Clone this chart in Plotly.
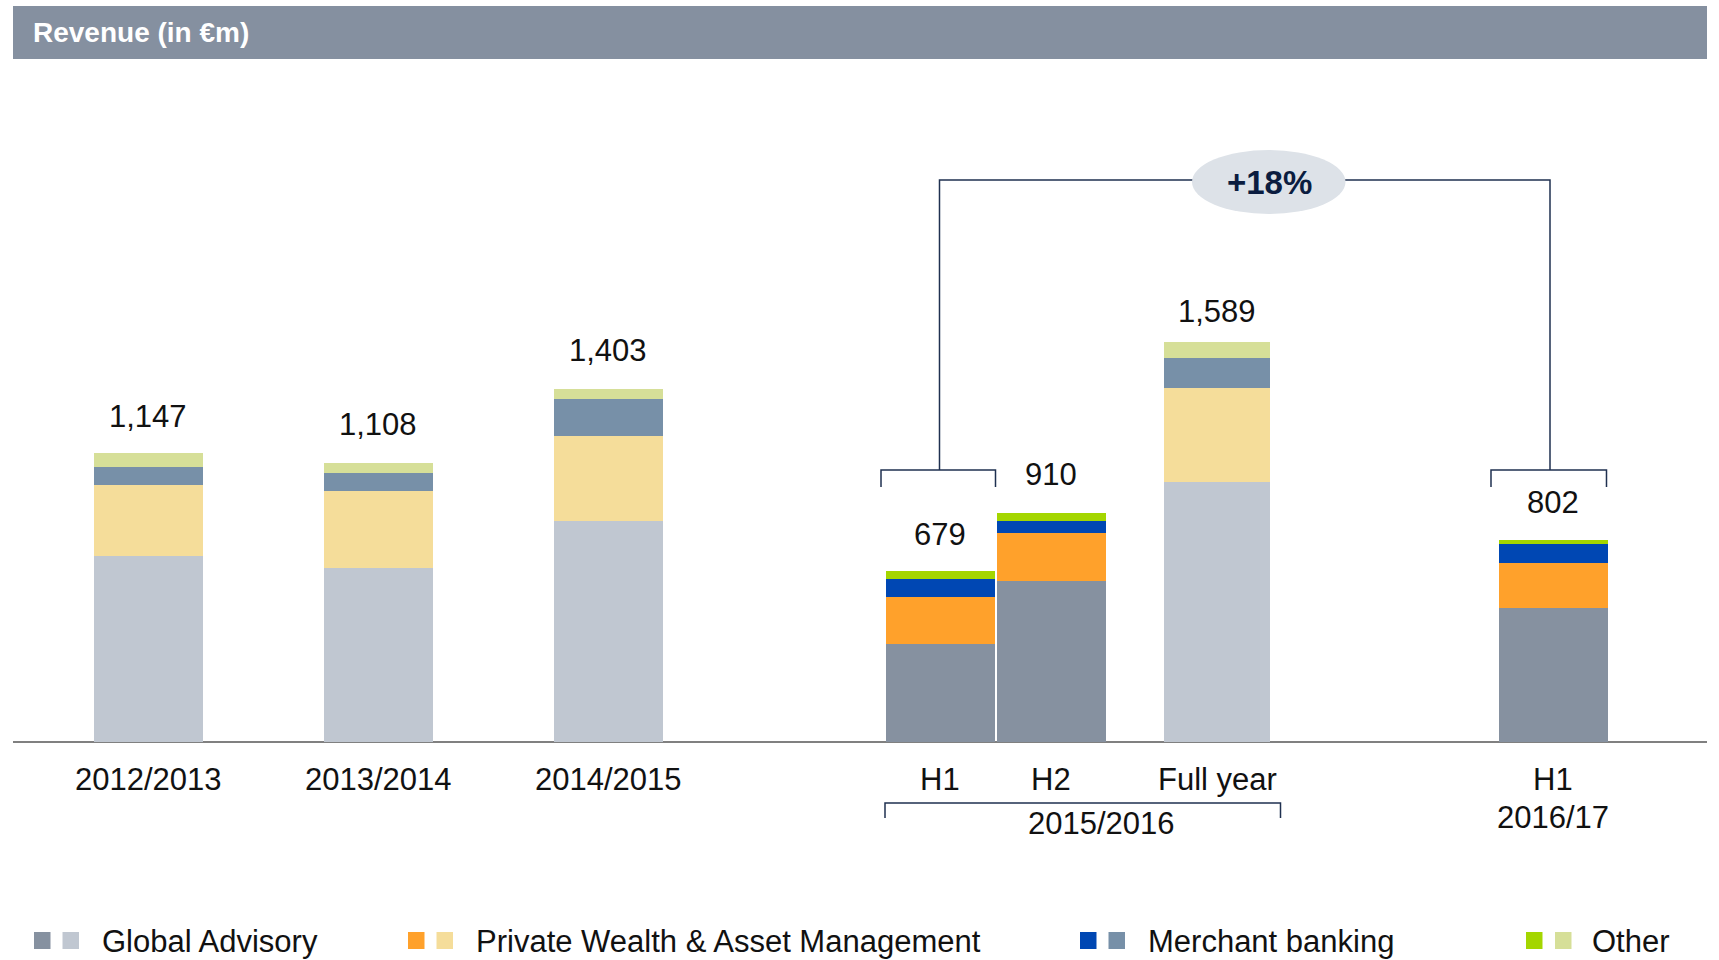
import plotly.graph_objects as go

# ---------------- data ----------------
periods = ["2012/2013", "2013/2014", "2014/2015", "H1 2015/2016",
           "H2 2015/2016", "Full year 2015/2016", "H1 2016/17"]
totals = [1147, 1108, 1403, 679, 910, 1589, 802]
global_advisory = [739, 690, 879, 391, 641, 1032, 531]
private_wealth_am = [283, 305, 337, 185, 190, 375, 181]
merchant_banking = [69, 74, 144, 70, 46, 116, 74]
other = [56, 39, 43, 33, 33, 66, 16]
tick_labels = ["2012/2013", "2013/2014", "2014/2015", "H1", "H2", "Full year", "H1"]
half_year = [False, False, False, True, True, False, True]
growth_label = "+18%"
group_label = "2015/2016"
sub_label = "2016/17"

# ---------------- layout helpers ----------------
W, H = 1719, 960
L, R, T, B = 13, 12, 100, 218
plot_w = W - L - R
plot_h = H - T - B
y_per_px = 3.97
x_pos = [135, 365, 595, 927, 1038, 1204, 1540]
bar_w = [109, 109, 109, 109, 109, 106, 109]

def px(x):
    return (x - L) / plot_w

def py(y):
    return (H - B - y) / plot_h

FONT = "Liberation Sans, Arial, sans-serif"
NAVY = "#1f3050"

segments = [
    ("Global Advisory", global_advisory, "#8691a0", "#c0c7d1"),
    ("Private Wealth & Asset Management", private_wealth_am, "#ffa12b", "#f5dd9a"),
    ("Merchant banking", merchant_banking, "#0047b3", "#7790a8"),
    ("Other", other, "#a4d600", "#d6df98"),
]

fig = go.Figure()
for name, vals, dark, light in segments:
    fig.add_trace(go.Bar(
        x=x_pos, y=vals, width=bar_w, name=name,
        marker=dict(color=[dark if h else light for h in half_year], line=dict(width=0)),
        hoverinfo="skip",
    ))

shapes = []
annotations = []

# header bar
shapes.append(dict(type="rect", xref="paper", yref="paper", x0=px(13), x1=px(1707),
                   y0=py(59), y1=py(6), fillcolor="#8590a0", line=dict(width=0), layer="below"))
annotations.append(dict(text="<b>Revenue (in €m)</b>", xref="paper", yref="paper",
                        x=px(31), y=py(33), xanchor="left", yanchor="middle", showarrow=False,
                        font=dict(family=FONT, size=28, color="white")))

# baseline
shapes.append(dict(type="line", xref="paper", yref="paper", x0=px(13), x1=px(1707),
                   y0=py(742), y1=py(742), line=dict(color="#808080", width=2), layer="below"))

# total labels
label_shift = [37, 38, 38, 36, 38, 30, 37]
for xp, tot, s in zip(x_pos, totals, label_shift):
    annotations.append(dict(text=f"{tot:,}", x=xp, y=tot, xref="x", yref="y",
                            yanchor="middle", yshift=s, showarrow=False,
                            font=dict(family=FONT, size=31, color="#111111")))

# category labels
for xp, lab in zip(x_pos, tick_labels):
    annotations.append(dict(text=lab, x=xp, y=py(780), xref="x", yref="paper",
                            yanchor="middle", showarrow=False,
                            font=dict(family=FONT, size=31, color="#111111")))
annotations.append(dict(text=sub_label, x=x_pos[6], y=py(817), xref="x", yref="paper",
                        yanchor="middle", showarrow=False,
                        font=dict(family=FONT, size=31, color="#111111")))
annotations.append(dict(text=group_label, x=px(1101), y=py(823), xref="paper", yref="paper",
                        yanchor="middle", showarrow=False,
                        font=dict(family=FONT, size=31, color="#111111")))

def path(points):
    return "M " + " L ".join(f"{px(a):.5f},{py(b):.5f}" for a, b in points)

line_style = dict(color=NAVY, width=1.5)
for pts in [
    [(881, 487), (881, 470), (995.5, 470), (995.5, 487)],
    [(1491, 487), (1491, 470), (1606.5, 470), (1606.5, 487)],
    [(939.5, 470), (939.5, 180), (1195, 180)],
    [(1342, 180), (1550, 180), (1550, 470)],
    [(885, 818), (885, 803), (1280.5, 803), (1280.5, 818)],
]:
    shapes.append(dict(type="path", xref="paper", yref="paper", path=path(pts), line=line_style))

shapes.append(dict(type="circle", xref="paper", yref="paper", x0=px(1192), x1=px(1345.5),
                   y0=py(214), y1=py(150), fillcolor="#dde2e8", line=dict(width=0)))
annotations.append(dict(text=f"<b>{growth_label}</b>", xref="paper", yref="paper",
                        x=px(1269), y=py(183), xanchor="center", yanchor="middle", showarrow=False,
                        font=dict(family=FONT, size=33, color="#0b1d40")))

# legend (manual, two swatches per segment)
legend_x = [(34, 62.5, 100), (408, 436.5, 474), (1080, 1108.5, 1146), (1526, 1555, 1590)]
for (name, _, dark, light), (s1, s2, tx) in zip(segments, legend_x):
    for sx, col in [(s1, dark), (s2, light)]:
        shapes.append(dict(type="rect", xref="paper", yref="paper", x0=px(sx), x1=px(sx + 16.5),
                           y0=py(949), y1=py(932), fillcolor=col, line=dict(width=0)))
    annotations.append(dict(text=name, xref="paper", yref="paper", x=px(tx), y=py(941),
                            xanchor="left", yanchor="middle", showarrow=False,
                            font=dict(family=FONT, size=31, color="#111111")))

fig.update_layout(
    width=W, height=H,
    margin=dict(l=L, r=R, t=T, b=B),
    barmode="stack", bargap=0,
    showlegend=False,
    paper_bgcolor="white", plot_bgcolor="white",
    xaxis=dict(range=[0, plot_w], visible=False, fixedrange=True),
    yaxis=dict(range=[0, plot_h * y_per_px], visible=False, fixedrange=True),
    shapes=shapes, annotations=annotations,
)

fig.write_html(
    "out.html",
    config={"displayModeBar": False},
    post_script="document.body.style.margin='0';document.body.style.overflow='hidden';",
)
